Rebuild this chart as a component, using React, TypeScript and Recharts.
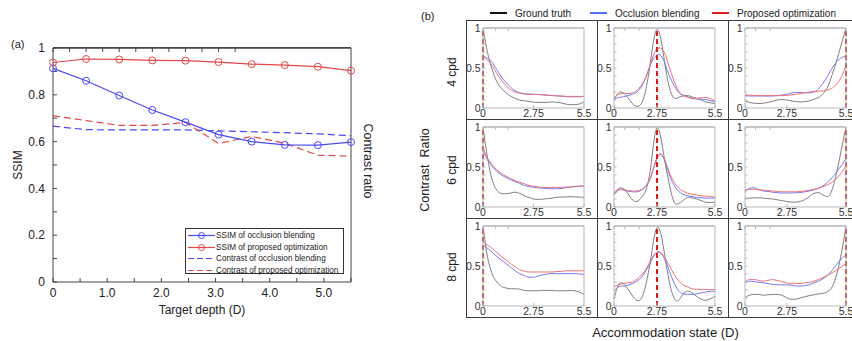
import React from 'react';
import { LineChart, Line, XAxis, YAxis, ReferenceLine } from 'recharts';

// ---------- Panel (a) data ----------
const targetDepths = [0, 0.611, 1.222, 1.833, 2.444, 3.056, 3.667, 4.278, 4.889, 5.5];
const ssimOcclusion = [0.913, 0.86, 0.797, 0.735, 0.683, 0.63, 0.6, 0.586, 0.585, 0.598];
const ssimProposed = [0.938, 0.953, 0.951, 0.947, 0.946, 0.94, 0.931, 0.927, 0.92, 0.903];
const contrastOcclusion = [0.666, 0.651, 0.65, 0.65, 0.65, 0.646, 0.642, 0.638, 0.633, 0.625];
const contrastProposed = [0.71, 0.69, 0.669, 0.669, 0.682, 0.592, 0.622, 0.593, 0.542, 0.538];
const depthTicks = [0, 0.5, 1, 1.5, 2, 2.5, 3, 3.5, 4, 4.5, 5, 5.5];
const depthTickLabels = ['0', '', '1.0', '', '2.0', '', '3.0', '', '4.0', '', '5.0', ''];
const ssimTicks = [0, 0.1, 0.2, 0.3, 0.4, 0.5, 0.6, 0.7, 0.8, 0.9, 1];
const ssimTickLabels = ['0', '', '0.2', '', '0.4', '', '0.6', '', '0.8', '', '1'];
const legendA = [
  'SSIM of occlusion blending',
  'SSIM of proposed optimization',
  'Contrast of occlusion blending',
  'Contrast of proposed optimization',
];

// ---------- Panel (b) data ----------
const accommodation = [0, 0.25, 0.5, 0.75, 1, 1.25, 1.5, 1.75, 2, 2.25, 2.5, 2.75, 3, 3.25, 3.5, 3.75, 4, 4.25, 4.5, 4.75, 5, 5.25, 5.5];
const frequencies = ['4 cpd', '6 cpd', '8 cpd'];
const targetPositions = [0, 2.34, 5.5];
const midTickPositions = [2.75, 2.34, 2.28];
const accTickLabels = ['0', '2.75', '5.5'];
const cellYTicks = [0, 0.1, 0.2, 0.3, 0.4, 0.5, 0.6, 0.7, 0.8, 0.9, 1];
const cellYTickLabels = ['0', '', '', '', '', '0.5', '', '', '', '', '1'];
const legendB = ['Ground truth', 'Occlusion blending', 'Proposed optimization'];

const gt4A = [1.0, 0.69, 0.48, 0.33, 0.245, 0.19, 0.15, 0.12, 0.1, 0.09, 0.08, 0.073, 0.07, 0.07, 0.07, 0.076, 0.072, 0.064, 0.05, 0.042, 0.042, 0.05, 0.076];
const ob4A = [0.645, 0.62, 0.57, 0.48, 0.39, 0.32, 0.26, 0.215, 0.19, 0.18, 0.175, 0.17, 0.17, 0.165, 0.16, 0.156, 0.152, 0.148, 0.144, 0.14, 0.14, 0.14, 0.144];
const po4A = [0.645, 0.6, 0.53, 0.43, 0.35, 0.28, 0.23, 0.2, 0.185, 0.175, 0.172, 0.17, 0.168, 0.165, 0.16, 0.156, 0.152, 0.15, 0.146, 0.145, 0.145, 0.145, 0.145];
const gt4B = [0.1, 0.19, 0.19, 0.13, 0.055, 0.02, 0.06, 0.245, 0.6, 0.94, 0.92, 0.58, 0.27, 0.13, 0.13, 0.15, 0.155, 0.14, 0.12, 0.1, 0.075, 0.065, 0.055];
const ob4B = [0.11, 0.13, 0.14, 0.155, 0.17, 0.2, 0.27, 0.39, 0.55, 0.645, 0.665, 0.57, 0.41, 0.29, 0.2, 0.16, 0.14, 0.12, 0.115, 0.11, 0.105, 0.09, 0.08];
const po4B = [0.13, 0.17, 0.185, 0.18, 0.19, 0.22, 0.29, 0.39, 0.56, 0.71, 0.75, 0.69, 0.52, 0.35, 0.22, 0.16, 0.135, 0.12, 0.12, 0.13, 0.13, 0.115, 0.09];
const gt4C = [0.09, 0.07, 0.06, 0.055, 0.06, 0.07, 0.085, 0.1, 0.105, 0.1, 0.09, 0.08, 0.075, 0.08, 0.09, 0.11, 0.13, 0.18, 0.26, 0.42, 0.6, 0.8, 1.0];
const ob4C = [0.155, 0.15, 0.15, 0.15, 0.15, 0.15, 0.15, 0.155, 0.16, 0.17, 0.185, 0.195, 0.195, 0.19, 0.19, 0.2, 0.24, 0.31, 0.4, 0.5, 0.58, 0.63, 0.65];
const po4C = [0.165, 0.16, 0.158, 0.156, 0.155, 0.155, 0.155, 0.155, 0.155, 0.158, 0.163, 0.17, 0.18, 0.19, 0.2, 0.205, 0.21, 0.215, 0.225, 0.25, 0.3, 0.39, 0.53];

const gt6A = [1.0, 0.61, 0.34, 0.21, 0.17, 0.165, 0.175, 0.185, 0.17, 0.14, 0.12, 0.1, 0.095, 0.098, 0.105, 0.11, 0.12, 0.125, 0.125, 0.13, 0.126, 0.124, 0.12];
const ob6A = [0.7, 0.59, 0.51, 0.445, 0.4, 0.37, 0.34, 0.315, 0.295, 0.27, 0.255, 0.245, 0.24, 0.235, 0.232, 0.228, 0.228, 0.232, 0.24, 0.25, 0.255, 0.26, 0.26];
const po6A = [0.74, 0.61, 0.53, 0.465, 0.42, 0.385, 0.355, 0.33, 0.31, 0.29, 0.27, 0.26, 0.25, 0.245, 0.245, 0.245, 0.245, 0.245, 0.248, 0.25, 0.255, 0.26, 0.265];
const gt6B = [0.16, 0.23, 0.23, 0.17, 0.09, 0.07, 0.12, 0.22, 0.5, 0.93, 0.92, 0.6, 0.3, 0.075, 0.04, 0.08, 0.12, 0.115, 0.1, 0.08, 0.06, 0.055, 0.06];
const ob6B = [0.15, 0.21, 0.215, 0.2, 0.19, 0.19, 0.21, 0.26, 0.37, 0.55, 0.655, 0.58, 0.41, 0.28, 0.2, 0.16, 0.14, 0.13, 0.12, 0.115, 0.11, 0.11, 0.11];
const po6B = [0.17, 0.215, 0.215, 0.205, 0.2, 0.2, 0.22, 0.27, 0.38, 0.56, 0.665, 0.6, 0.44, 0.32, 0.24, 0.2, 0.175, 0.16, 0.15, 0.14, 0.135, 0.13, 0.125];
const gt6C = [0.11, 0.11, 0.115, 0.115, 0.11, 0.105, 0.1, 0.09, 0.08, 0.07, 0.062, 0.06, 0.07, 0.09, 0.13, 0.17, 0.18, 0.15, 0.13, 0.22, 0.44, 0.72, 1.0];
const ob6C = [0.195, 0.235, 0.24, 0.22, 0.2, 0.195, 0.185, 0.18, 0.175, 0.175, 0.175, 0.178, 0.18, 0.19, 0.2, 0.215, 0.235, 0.265, 0.31, 0.37, 0.44, 0.52, 0.61];
const po6C = [0.215, 0.22, 0.22, 0.215, 0.21, 0.205, 0.2, 0.195, 0.19, 0.19, 0.19, 0.19, 0.195, 0.2, 0.21, 0.22, 0.235, 0.255, 0.28, 0.31, 0.36, 0.43, 0.51];

const gt8A = [1.0, 0.61, 0.4, 0.3, 0.245, 0.225, 0.215, 0.215, 0.21, 0.195, 0.19, 0.19, 0.19, 0.195, 0.195, 0.195, 0.19, 0.19, 0.19, 0.195, 0.19, 0.175, 0.145];
const ob8A = [0.76, 0.72, 0.67, 0.62, 0.575, 0.53, 0.485, 0.44, 0.405, 0.38, 0.36, 0.36, 0.375, 0.39, 0.4, 0.405, 0.405, 0.405, 0.405, 0.405, 0.405, 0.4, 0.395];
const po8A = [0.8, 0.76, 0.72, 0.67, 0.62, 0.575, 0.53, 0.49, 0.455, 0.435, 0.425, 0.425, 0.425, 0.425, 0.425, 0.425, 0.43, 0.432, 0.44, 0.44, 0.44, 0.44, 0.44];
const gt8B = [0.09, 0.265, 0.28, 0.215, 0.13, 0.07, 0.1, 0.28, 0.59, 0.925, 0.945, 0.655, 0.32, 0.11, 0.07, 0.145, 0.185, 0.165, 0.12, 0.085, 0.07, 0.09, 0.12];
const ob8B = [0.19, 0.24, 0.25, 0.26, 0.28, 0.31, 0.36, 0.445, 0.55, 0.655, 0.665, 0.59, 0.445, 0.3, 0.195, 0.155, 0.145, 0.145, 0.15, 0.165, 0.175, 0.185, 0.185];
const po8B = [0.24, 0.265, 0.28, 0.29, 0.3, 0.335, 0.39, 0.465, 0.57, 0.66, 0.675, 0.61, 0.51, 0.405, 0.32, 0.265, 0.24, 0.215, 0.21, 0.205, 0.205, 0.205, 0.205];
const gt8C = [0.105, 0.135, 0.145, 0.145, 0.135, 0.14, 0.145, 0.145, 0.135, 0.105, 0.085, 0.085, 0.1, 0.115, 0.13, 0.14, 0.15, 0.16, 0.18, 0.24, 0.4, 0.66, 1.0];
const ob8C = [0.29, 0.31, 0.305, 0.295, 0.29, 0.28, 0.27, 0.265, 0.265, 0.265, 0.26, 0.25, 0.25, 0.255, 0.265, 0.29, 0.31, 0.34, 0.385, 0.445, 0.52, 0.59, 0.64];
const po8C = [0.3, 0.33, 0.33, 0.32, 0.31, 0.32, 0.33, 0.32, 0.305, 0.29, 0.28, 0.28, 0.28, 0.29, 0.295, 0.31, 0.33, 0.355, 0.385, 0.415, 0.45, 0.49, 0.53];

const cellSeries = [
  [[gt4A, ob4A, po4A], [gt4B, ob4B, po4B], [gt4C, ob4C, po4C]],
  [[gt6A, ob6A, po6A], [gt6B, ob6B, po6B], [gt6C, ob6C, po6C]],
  [[gt8A, ob8A, po8A], [gt8B, ob8B, po8B], [gt8C, ob8C, po8C]],
];

// ---------- styles ----------
const FONT = '"Liberation Sans", Arial, sans-serif';
const BLUE_A = '#4a4af2';
const RED_A = '#e24848';
const GT = '#5e5e5e';
const OB = '#6f7cf6';
const PO = '#ef7070';
const REF = '#e01818';

const CELL_W = 131;
const CELL_H = 99;
const GRID_LEFT = 466;
const GRID_TOP = 20;

function PanelA() {
  const data = targetDepths.map((d, i) => ({
    d,
    sb: ssimOcclusion[i],
    sp: ssimProposed[i],
    cb: contrastOcclusion[i],
    cp: contrastProposed[i],
  }));
  const tickStyle = { fill: '#222', fontSize: 12, fontFamily: FONT };
  return (
    <div style={{ position: 'absolute', left: 0, top: 0 }}>
      <LineChart width={400} height={341} data={data} margin={{ top: 47, right: 0, bottom: 19, left: 0 }}>
        <XAxis
          dataKey="d"
          type="number"
          domain={[0, 5.5]}
          ticks={depthTicks}
          interval={0}
          height={40}
          tickSize={-4}
          tickMargin={10}
          stroke="#444"
          tick={tickStyle}
          tickFormatter={(v: number, i: number) => depthTickLabels[i]}
          label={{ value: 'Target depth (D)', position: 'insideBottom', offset: 8, fill: '#222', fontSize: 12, fontFamily: FONT }}
        />
        <XAxis
          xAxisId="top"
          orientation="top"
          type="number"
          domain={[0, 5.5]}
          ticks={depthTicks}
          interval={0}
          height={1}
          tickSize={-4}
          stroke="#444"
          tickFormatter={() => ''}
        />
        <YAxis
          type="number"
          domain={[0, 1]}
          ticks={ssimTicks}
          interval={0}
          width={53}
          tickSize={-4}
          tickMargin={12}
          stroke="#444"
          tick={tickStyle}
          tickFormatter={(v: number, i: number) => ssimTickLabels[i]}
          label={{
            content: () => (
              <text x={18} y={165} transform="rotate(-90 18 165)" textAnchor="middle" dominantBaseline="central" fill="#222" fontSize={12} fontFamily={FONT}>
                SSIM
              </text>
            ),
          }}
        />
        <YAxis
          yAxisId="r"
          orientation="right"
          type="number"
          domain={[0, 1]}
          ticks={ssimTicks}
          interval={0}
          width={49}
          tickSize={-4}
          stroke="#444"
          tickFormatter={() => ''}
          label={{
            content: () => (
              <text x={368} y={161} transform="rotate(90 368 161)" textAnchor="middle" dominantBaseline="central" fill="#222" fontSize={12.5} fontFamily={FONT}>
                Contrast ratio
              </text>
            ),
          }}
        />
        <ReferenceLine y={1} stroke="#444" strokeWidth={1} />
        <Line dataKey="cb" stroke={BLUE_A} strokeWidth={1.2} strokeDasharray="7 4" dot={false} isAnimationActive={false} />
        <Line dataKey="cp" stroke={RED_A} strokeWidth={1.2} strokeDasharray="7 4" dot={false} isAnimationActive={false} />
        <Line dataKey="sb" stroke={BLUE_A} strokeWidth={1.2} dot={{ r: 3.5, fill: 'none', stroke: BLUE_A, strokeWidth: 1 }} isAnimationActive={false} />
        <Line dataKey="sp" stroke={RED_A} strokeWidth={1.2} dot={{ r: 3.5, fill: 'none', stroke: RED_A, strokeWidth: 1 }} isAnimationActive={false} />
      </LineChart>
      <div style={{ position: 'absolute', left: 53, top: 47, width: 298, height: 1, background: '#444' }} />
      <div
        style={{
          position: 'absolute',
          left: 185,
          top: 228,
          width: 159,
          height: 46,
          border: '1px solid #333',
          background: '#fff',
          fontFamily: FONT,
          fontSize: 8.2,
          color: '#222',
          boxSizing: 'border-box',
          paddingTop: 1,
        }}
      >
        {legendA.map((t, i) => {
          const color = i % 2 === 0 ? BLUE_A : RED_A;
          return (
            <div key={t} style={{ display: 'flex', alignItems: 'center', height: 11.5, whiteSpace: 'nowrap' }}>
              <svg width={28} height={9} style={{ marginLeft: 1, flex: 'none' }}>
                <line x1={1} y1={4.5} x2={28} y2={4.5} stroke={color} strokeWidth={1.2} strokeDasharray={i < 2 ? undefined : '6 3'} />
                {i < 2 && <circle cx={14.5} cy={4.5} r={3} fill="none" stroke={color} strokeWidth={1} />}
              </svg>
              <span style={{ marginLeft: 1 }}>{t}</span>
            </div>
          );
        })}
      </div>
      <div style={{ position: 'absolute', left: 11, top: 38, fontFamily: FONT, fontSize: 11, color: '#222' }}>(a)</div>
    </div>
  );
}

function Cell({ row, col }: { row: number; col: number }) {
  const [gt, ob, po] = cellSeries[row][col];
  const data = accommodation.map((x, i) => ({ x, gt: gt[i], ob: ob[i], po: po[i] }));
  const curve = col === 1 ? 'natural' : 'monotone';
  const xTicks = [0, midTickPositions[col], 5.5];
  const tickStyle = { fill: '#333', fontSize: 10.5, fontFamily: FONT };
  return (
    <div style={{ position: 'absolute', left: GRID_LEFT + col * CELL_W, top: GRID_TOP + row * CELL_H }}>
      <LineChart width={CELL_W} height={CELL_H} data={data} margin={{ top: 7, right: 12, bottom: 0, left: 0 }}>
        <XAxis
          dataKey="x"
          type="number"
          domain={[0, 5.5]}
          ticks={xTicks}
          interval={0}
          height={11}
          tickSize={-3}
          tickMargin={5}
          stroke="#b8b8b8"
          tick={tickStyle}
          tickFormatter={(v: number, i: number) => accTickLabels[i]}
        />
        <XAxis xAxisId="top" orientation="top" type="number" domain={[0, 5.5]} ticks={xTicks} interval={0} height={1} tickSize={-3} stroke="#b8b8b8" tickFormatter={() => ''} />
        <YAxis
          type="number"
          domain={[0, 1]}
          ticks={cellYTicks}
          interval={0}
          width={17}
          tickSize={-2.5}
          tickMargin={5}
          stroke="#b8b8b8"
          tick={tickStyle}
          tickFormatter={(v: number, i: number) => cellYTickLabels[i]}
        />
        <YAxis yAxisId="r" orientation="right" type="number" domain={[0, 1]} ticks={cellYTicks} interval={0} width={1} tickSize={-2.5} stroke="#b8b8b8" tickFormatter={() => ''} />
        <ReferenceLine y={1} stroke="#b8b8b8" strokeWidth={1} />
        <Line type={curve} dataKey="gt" stroke={GT} strokeWidth={0.8} dot={false} isAnimationActive={false} />
        <Line type={curve} dataKey="ob" stroke={OB} strokeWidth={1} dot={false} isAnimationActive={false} />
        <Line type={curve} dataKey="po" stroke={PO} strokeWidth={1} dot={false} isAnimationActive={false} />
        <ReferenceLine x={targetPositions[col]} stroke={REF} strokeWidth={2} strokeDasharray="5 3" />
      </LineChart>
      <div style={{ position: 'absolute', left: 17, top: 7, width: 101, height: 1, background: '#c4c4c4' }} />
    </div>
  );
}

function PanelB() {
  const cells = [];
  for (let r = 0; r < 3; r++) for (let c = 0; c < 3; c++) cells.push(<Cell key={`${r}-${c}`} row={r} col={c} />);
  const frame = [];
  for (let r = 0; r < 3; r++)
    for (let c = 0; c < 3; c++)
      frame.push(
        <div
          key={`f${r}-${c}`}
          style={{
            position: 'absolute',
            left: GRID_LEFT + c * CELL_W,
            top: GRID_TOP + r * CELL_H,
            width: CELL_W + 1,
            height: CELL_H + 1,
            border: '1px solid #3c3c3c',
            boxSizing: 'border-box',
          }}
        />
      );
  const legendColors = ['#111', '#4f6ef0', '#e61e1e'];
  const legendX = [490, 590, 712];
  return (
    <div style={{ position: 'absolute', left: 0, top: 0, width: 852, height: 341 }}>
      {frame}
      {cells}
      <div style={{ position: 'absolute', left: 421, top: 10, fontFamily: FONT, fontSize: 11, color: '#222' }}>(b)</div>
      {legendB.map((t, i) => (
        <div key={t} style={{ position: 'absolute', left: legendX[i], top: 6, display: 'flex', alignItems: 'center', height: 14, fontFamily: FONT, fontSize: 10, color: '#222', whiteSpace: 'nowrap' }}>
          <div style={{ width: 17, height: 2, background: legendColors[i], marginRight: 8 }} />
          <span>{t}</span>
        </div>
      ))}
      {frequencies.map((f, r) => (
        <div
          key={f}
          style={{
            position: 'absolute',
            left: 451.5,
            top: 72 + r * 97.5,
            transform: 'translate(-50%, -50%) rotate(-90deg)',
            fontFamily: FONT,
            fontSize: 12,
            color: '#222',
            whiteSpace: 'nowrap',
          }}
        >
          {f}
        </div>
      ))}
      <div
        style={{
          position: 'absolute',
          left: 425,
          top: 170,
          transform: 'translate(-50%, -50%) rotate(-90deg)',
          fontFamily: FONT,
          fontSize: 12.5,
          color: '#222',
          whiteSpace: 'nowrap',
        }}
      >
        Contrast&nbsp;&nbsp;Ratio
      </div>
      <div
        style={{
          position: 'absolute',
          left: 665.5,
          top: 332,
          transform: 'translate(-50%, -50%)',
          fontFamily: FONT,
          fontSize: 13,
          color: '#222',
          whiteSpace: 'nowrap',
        }}
      >
        Accommodation state (D)
      </div>
    </div>
  );
}

export default function App() {
  return (
    <div style={{ position: 'absolute', left: 0, top: 0, width: 852, height: 341, overflow: 'hidden', background: '#fff' }}>
      <PanelB />
      <PanelA />
    </div>
  );
}
